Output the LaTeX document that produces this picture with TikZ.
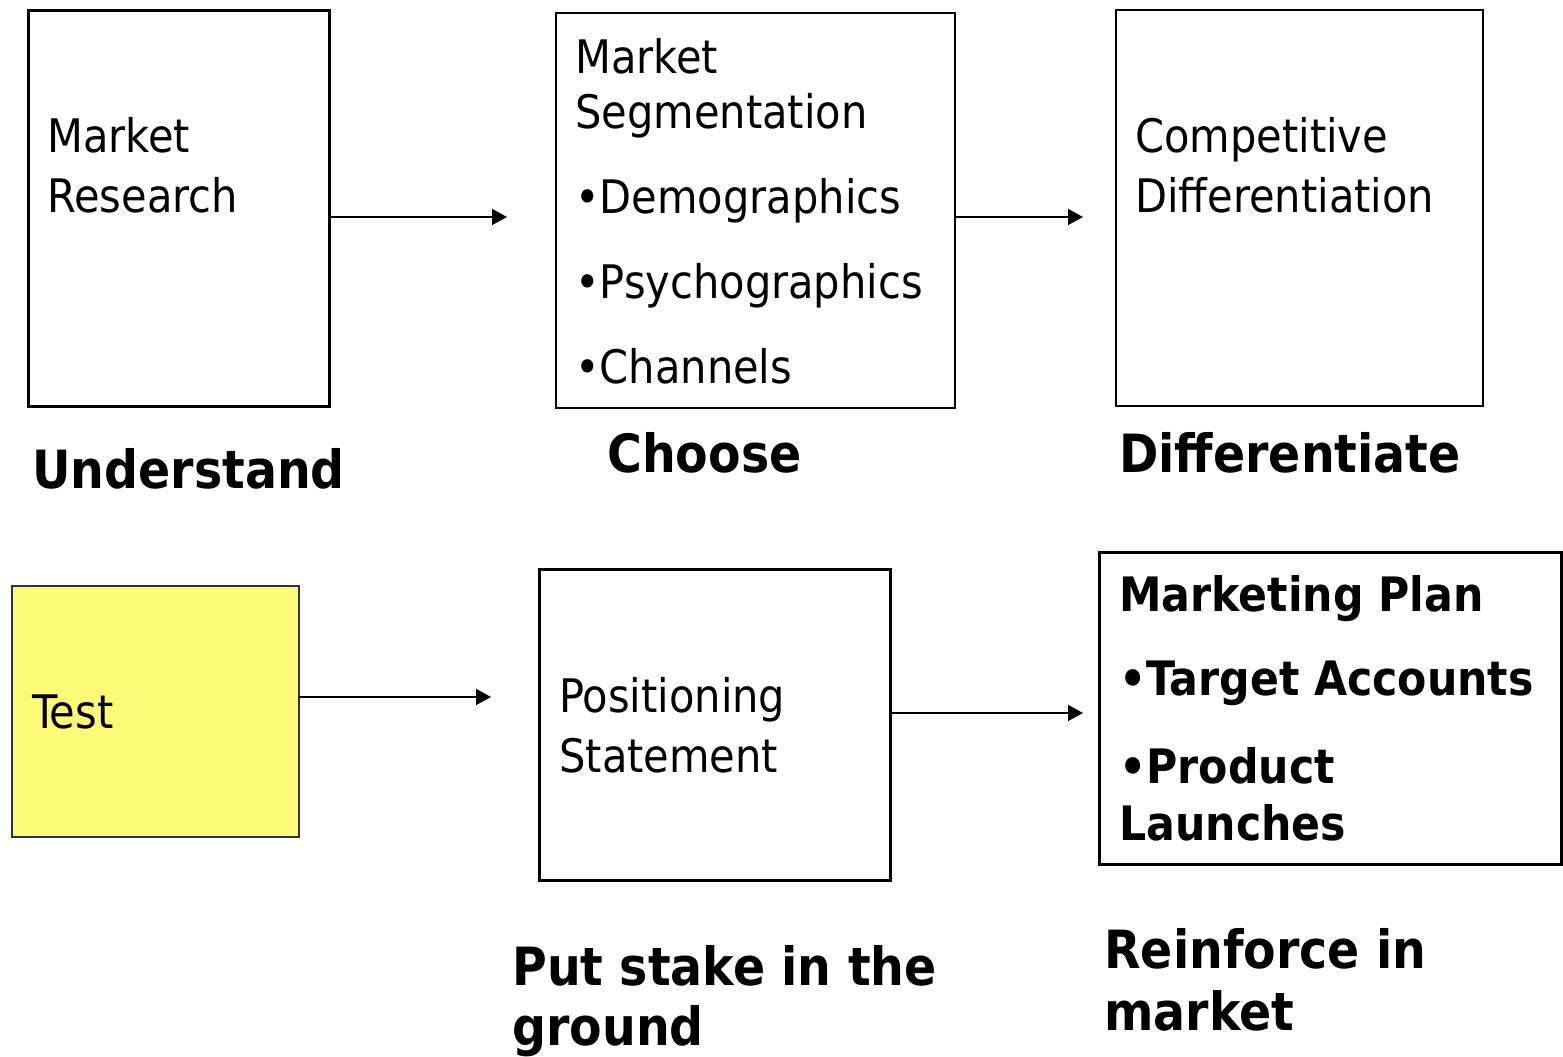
\documentclass[tikz,border=0pt]{standalone}
\usepackage{fontspec}
\setmainfont{DejaVu Sans Condensed}
\usetikzlibrary{arrows.meta}
\definecolor{testyellow}{RGB}{255,251,120}

\begin{document}
\begin{tikzpicture}[x=0.02cm, y=-0.02cm]
					\tikzstyle{box}=[draw, rectangle, inner sep=0pt, outer sep=0pt]
					\tikzstyle{thickbox}=[box, line width=1.7pt]
					\tikzstyle{thinbox}=[box, line width=1.1pt]
					\tikzstyle{txt}=[anchor=base west, inner sep=0pt, align=left, font=\fontsize{26.3}{34}\selectfont]
					\tikzstyle{step label}=[anchor=base west, inner sep=0pt, align=left, font=\fontsize{30}{34}\selectfont\bfseries]
					\tikzstyle{flow}=[-{Triangle[length=8.5pt, width=9pt]}, line width=1.1pt]
					\useasboundingbox (0,0) rectangle (1563,1056);
					% top row (text nodes sit on their last baseline)
					\node (research) [thickbox, minimum width=6.02cm, minimum height=7.92cm] at (179,208.5) {};
					\node (segment) [thinbox, minimum width=7.98cm, minimum height=7.9cm] at (755.5,210.5) {};
					\node (compdiff) [thinbox, minimum width=7.34cm, minimum height=7.92cm] at (1299.5,208) {};
					\node (researchtxt) [txt] at (47,212) {Market\\Research};
					\node (segmenttxt) [txt, font=\fontsize{26.3}{31.3}\selectfont] at (575,383) {Market\\Segmentation\\[17pt]•Demographics\\[17pt]•Psychographics\\[17pt]•Channels};
					\node (compdifftxt) [txt] at (1135,212) {Competitive\\Differentiation};
					\node (understand) [step label] at (32,488) {Understand};
					\node (choose) [step label] at (607,472) {Choose};
					\node (differentiate) [step label] at (1119,472) {Differentiate};
					% bottom row
					\node (test) [thinbox, draw=black!80, fill=testyellow, minimum width=5.74cm, minimum height=5.02cm] at (155.5,711.5) {};
					\node (position) [thickbox, minimum width=7.02cm, minimum height=6.22cm] at (715,725) {};
					\node (plan) [thickbox, minimum width=9.24cm, minimum height=6.24cm] at (1330.5,708.5) {};
					\node (testtxt) [txt] at (32,728) {Test};
					\node (positiontxt) [txt] at (559,772) {Positioning\\Statement};
					\node (plantxt) [step label, font=\fontsize{27}{32.4}\selectfont\bfseries] at (1119,840) {Marketing Plan\\[15pt]•Target Accounts\\[17.6pt]•Product\\Launches};
					\node (stake) [step label] at (512,1045) {Put stake in the\\ground};
					\node (reinforce) [step label, font=\fontsize{30}{35}\selectfont\bfseries] at (1104,1030) {Reinforce in\\market};
					% arrows
					\coordinate (tosegment) at (507,217);
					\coordinate (tocompdiff) at (1083,217);
					\coordinate (toposition) at (491,697);
					\coordinate (toplan) at (1083,713);
					\draw[flow] (research.east |- tosegment) -- (tosegment);
					\draw[flow] (segment.east |- tocompdiff) -- (tocompdiff);
					\draw[flow] (test.east |- toposition) -- (toposition);
					\draw[flow] (position.east |- toplan) -- (toplan);
				\end{tikzpicture}
\end{document}
